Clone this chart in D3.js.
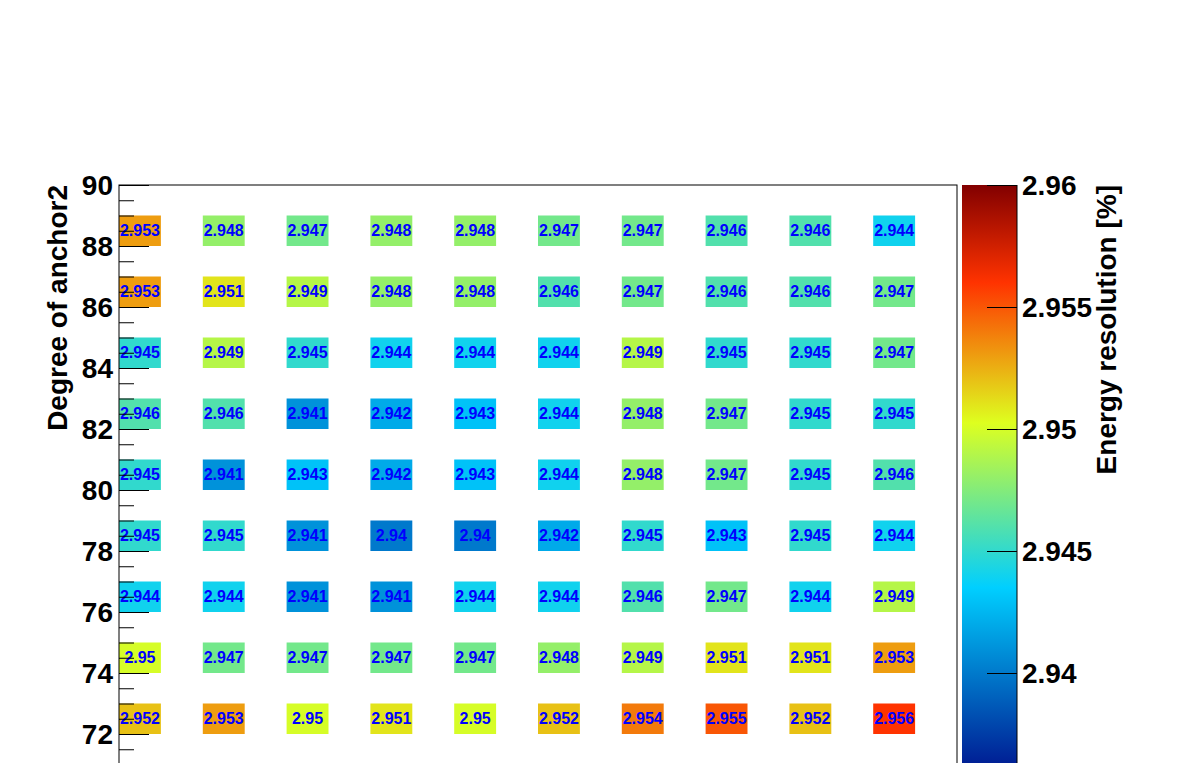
<!DOCTYPE html>
<html>
<head>
<meta charset="utf-8">
<script src="https://cdn.jsdelivr.net/npm/d3@7"></script>
<style>
  body { margin: 0; background: white; }
  svg { display: block; font-family: "Liberation Sans", Arial, sans-serif; }
</style>
</head>
<body>
<svg id="chart" width="1196" height="763"></svg>
<script>
// anchor1 columns (hidden x axis) and anchor2 rows
var xValues = [0, 10, 20, 30, 40, 50, 60, 70, 80, 90];
var yValues = [88, 86, 84, 82, 80, 78, 76, 74, 72];

// energy resolution [%], one list per row (top to bottom)
var row88 = [2.953, 2.948, 2.947, 2.948, 2.948, 2.947, 2.947, 2.946, 2.946, 2.944];
var row86 = [2.953, 2.951, 2.949, 2.948, 2.948, 2.946, 2.947, 2.946, 2.946, 2.947];
var row84 = [2.945, 2.949, 2.945, 2.944, 2.944, 2.944, 2.949, 2.945, 2.945, 2.947];
var row82 = [2.946, 2.946, 2.941, 2.942, 2.943, 2.944, 2.948, 2.947, 2.945, 2.945];
var row80 = [2.945, 2.941, 2.943, 2.942, 2.943, 2.944, 2.948, 2.947, 2.945, 2.946];
var row78 = [2.945, 2.945, 2.941, 2.94, 2.94, 2.942, 2.945, 2.943, 2.945, 2.944];
var row76 = [2.944, 2.944, 2.941, 2.941, 2.944, 2.944, 2.946, 2.947, 2.944, 2.949];
var row74 = [2.95, 2.947, 2.947, 2.947, 2.947, 2.948, 2.949, 2.951, 2.951, 2.953];
var row72 = [2.952, 2.953, 2.95, 2.951, 2.95, 2.952, 2.954, 2.955, 2.952, 2.956];
var rows = [row88, row86, row84, row82, row80, row78, row76, row74, row72];

var yTicks = [72, 74, 76, 78, 80, 82, 84, 86, 88, 90];
var zTicks = [2.94, 2.945, 2.95, 2.955, 2.96];

// palette stops (rainbow: dark blue -> cyan -> yellow -> red -> dark red)
var palStops = [0.00, 0.34, 0.61, 0.84, 1.00];
var palRed   = [0.00, 0.00, 0.87, 1.00, 0.51];
var palGreen = [0.00, 0.81, 1.00, 0.20, 0.00];
var palBlue  = [0.51, 1.00, 0.12, 0.00, 0.00];

var zMin = 2.935, zMax = 2.96;

// flatten to cells
var cells = [];
rows.forEach(function(r, i) {
    r.forEach(function(v, j) {
        cells.push({x: xValues[j], y: yValues[i], v: v});
    });
});

var svg = d3.select("#chart");

var frame = {left: 119, right: 957, top: 185, bottom: 795};
var xScale = d3.scaleLinear().domain([0, 100]).range([frame.left, frame.right]);
var yScale = d3.scaleLinear().domain([70, 90]).range([frame.bottom, frame.top]);
var zScale = d3.scaleLinear().domain([zMin, zMax]).range([frame.bottom, frame.top]);

var palColors = palStops.map(function(s, i) {
    return d3.rgb(palRed[i] * 255, palGreen[i] * 255, palBlue[i] * 255);
});
var color = d3.scaleLinear()
    .domain(palStops.map(function(s) { return zMin + s * (zMax - zMin); }))
    .range(palColors)
    .interpolate(d3.interpolateRgb)
    .clamp(true);

// cells
svg.append("g").selectAll("rect")
    .data(cells)
    .join("rect")
    .attr("x", d => xScale(d.x))
    .attr("y", d => yScale(d.y + 1))
    .attr("width", d => xScale(d.x + 5) - xScale(d.x))
    .attr("height", d => yScale(d.y) - yScale(d.y + 1))
    .attr("fill", d => color(d.v));

// cell text
svg.append("g").selectAll("text")
    .data(cells)
    .join("text")
    .attr("x", d => xScale(d.x + 2.5))
    .attr("y", d => yScale(d.y + 0.5))
    .attr("text-anchor", "middle")
    .attr("dominant-baseline", "central")
    .attr("font-size", "16px")
    .attr("font-weight", "bold")
    .attr("fill", "#0000ff")
    .text(d => String(d.v));

// frame
svg.append("rect")
    .attr("x", frame.left).attr("y", frame.top)
    .attr("width", frame.right - frame.left)
    .attr("height", frame.bottom - frame.top)
    .attr("fill", "none").attr("stroke", "black").attr("stroke-width", 1);

// y axis (ticks inside the frame, drawn over the cells)
var yAxis = d3.axisRight(yScale)
    .tickValues(d3.range(70, 90.01, 0.5))
    .tickSize(15)
    .tickFormat("");
var yAxisG = svg.append("g")
    .attr("transform", `translate(${frame.left},0)`)
    .call(yAxis);
yAxisG.select(".domain").remove();
yAxisG.selectAll(".tick line")
    .attr("stroke", "black")
    .attr("x2", d => (d % 2 === 0 ? 30 : 15));

svg.append("g").selectAll("text")
    .data(yTicks)
    .join("text")
    .attr("x", 113)
    .attr("y", d => yScale(d))
    .attr("text-anchor", "end")
    .attr("dominant-baseline", "central")
    .attr("font-size", "28px")
    .attr("font-weight", "bold")
    .text(d => d);

svg.append("text")
    .attr("transform", `translate(67,${frame.top}) rotate(-90)`)
    .attr("text-anchor", "end")
    .attr("font-size", "28px")
    .attr("font-weight", "bold")
    .text("Degree of anchor2");

// colour bar
var bar = {left: 962, right: 1017};
var defs = svg.append("defs");
var grad = defs.append("linearGradient")
    .attr("id", "zgrad")
    .attr("x1", 0).attr("x2", 0).attr("y1", 1).attr("y2", 0);
grad.selectAll("stop")
    .data(palStops)
    .join("stop")
    .attr("offset", d => d)
    .attr("stop-color", (d, i) => palColors[i]);

svg.append("rect")
    .attr("x", bar.left).attr("y", zScale(zMax))
    .attr("width", bar.right - bar.left)
    .attr("height", zScale(zMin) - zScale(zMax))
    .attr("fill", "url(#zgrad)");

svg.append("line")
    .attr("x1", bar.right).attr("x2", bar.right)
    .attr("y1", zScale(zMax)).attr("y2", zScale(zMin))
    .attr("stroke", "black");

var zAxis = d3.axisLeft(zScale).tickValues(zTicks).tickSize(30).tickFormat("");
var zAxisG = svg.append("g")
    .attr("transform", `translate(${bar.right},0)`)
    .call(zAxis);
zAxisG.select(".domain").remove();
zAxisG.selectAll(".tick line").attr("stroke", "black");

svg.append("g").selectAll("text")
    .data(zTicks)
    .join("text")
    .attr("x", 1022)
    .attr("y", d => zScale(d))
    .attr("dominant-baseline", "central")
    .attr("font-size", "28px")
    .attr("font-weight", "bold")
    .text(d => d3.format("")(d));

svg.append("text")
    .attr("transform", `translate(1116,${frame.top}) rotate(-90)`)
    .attr("text-anchor", "end")
    .attr("font-size", "28px")
    .attr("font-weight", "bold")
    .text("Energy resolution [%]");
</script>
</body>
</html>
